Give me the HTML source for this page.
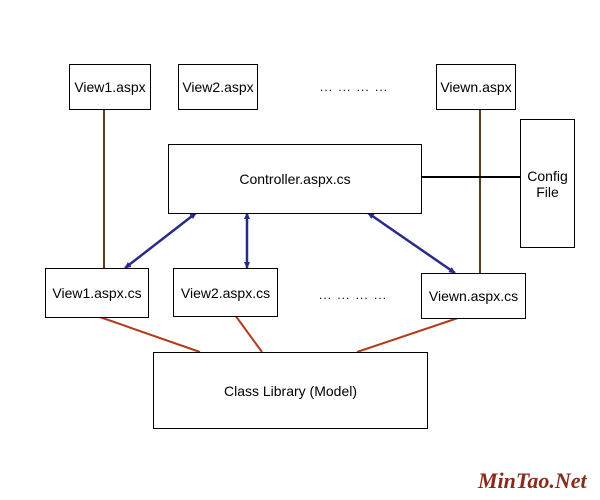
<!DOCTYPE html>
<html><head><style>
body{margin:0;width:600px;height:500px;background:#fff;overflow:hidden}
.b{position:absolute;border:1px solid #000;background:#fff;font-family:"Liberation Sans",sans-serif;font-size:14px;display:flex;align-items:center;justify-content:center;text-align:center;box-sizing:border-box}
.t{position:absolute;font-family:"Liberation Sans",sans-serif;font-size:12px;letter-spacing:1px;word-spacing:1px}
</style></head><body>
<svg width="600" height="500" style="position:absolute;left:0;top:0">
<defs><marker id="a" markerWidth="8" markerHeight="8" refX="6" refY="4" orient="auto-start-reverse" markerUnits="userSpaceOnUse"><path d="M0,1 L7,4 L0,7z" fill="#2a2a8a"/></marker></defs>
<line x1="104" y1="109" x2="104" y2="268" stroke="#5a3a1a" stroke-width="2"/>
<line x1="480" y1="109" x2="480" y2="273" stroke="#5a3a1a" stroke-width="2"/>
<line x1="421" y1="177" x2="520" y2="177" stroke="#000" stroke-width="2"/>
<g stroke="#2a2a8a" stroke-width="2.5">
<line x1="196" y1="213" x2="125" y2="268" marker-start="url(#a)" marker-end="url(#a)"/>
<line x1="247" y1="213" x2="247" y2="268" marker-start="url(#a)" marker-end="url(#a)"/>
<line x1="368" y1="213" x2="455" y2="273" marker-start="url(#a)" marker-end="url(#a)"/>
</g>
<g stroke="#b33a1a" stroke-width="2">
<line x1="94" y1="315" x2="200" y2="352"/>
<line x1="235" y1="315" x2="262" y2="352"/>
<line x1="458" y1="318" x2="357" y2="352"/>
</g>
</svg>
<div class="b" style="left:69px;top:64px;width:82px;height:46px">View1.aspx</div>
<div class="b" style="left:178px;top:64px;width:80px;height:46px">View2.aspx</div>
<div class="t" style="left:320px;top:80px">... ... ... ...</div>
<div class="b" style="left:436px;top:64px;width:80px;height:46px">Viewn.aspx</div>
<div class="b" style="left:520px;top:119px;width:55px;height:129px">Config<br>File</div>
<div class="b" style="left:168px;top:144px;width:254px;height:70px">Controller.aspx.cs</div>
<div class="b" style="left:45px;top:268px;width:104px;height:50px">View1.aspx.cs</div>
<div class="b" style="left:173px;top:268px;width:105px;height:49px">View2.aspx.cs</div>
<div class="t" style="left:319px;top:288px">... ... ... ...</div>
<div class="b" style="left:421px;top:273px;width:105px;height:46px">Viewn.aspx.cs</div>
<div class="b" style="left:153px;top:352px;width:275px;height:77px">Class Library (Model)</div>
<div style="position:absolute;left:478px;top:468px;font-family:'Liberation Serif',serif;font-style:italic;font-weight:bold;font-size:22px;color:#8a2a1a">MinTao.Net</div>
</body></html>
